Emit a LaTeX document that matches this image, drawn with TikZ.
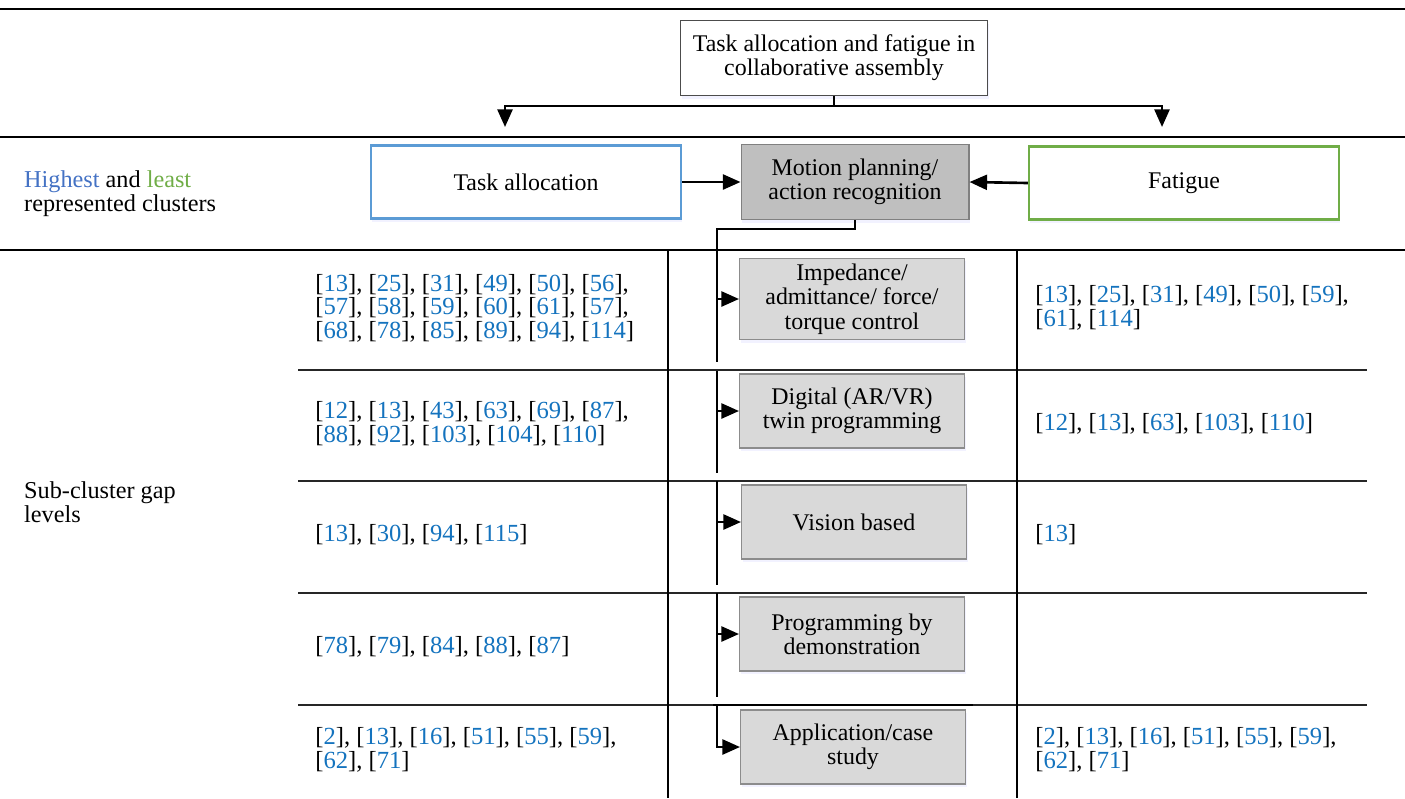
\documentclass[tikz,border=0pt]{standalone}
\usepackage{fontspec}
\setmainfont{Liberation Serif}
\usetikzlibrary{arrows.meta,shadows}
\definecolor{refblue}{RGB}{20,115,190}
\definecolor{hiblue}{RGB}{68,114,196}
\definecolor{logreen}{RGB}{112,173,71}
\definecolor{taskblue}{RGB}{91,155,213}
\newcommand{\rf}[1]{[\textcolor{refblue}{#1}]}
\tikzset{
         rule/.style = { line width=0.8pt },
    thickrule/.style = { line width=1.4pt },
      rowrule/.style = { line width=0.7pt, black!85 },
         conn/.style = { line width=1.5pt },
         flow/.style = { conn, -{Triangle[length=10pt,width=8.5pt]} },
       shaded/.style = { drop shadow={shadow xshift=0.8pt, shadow yshift=-1.8pt,
                         fill=blue!10, draw=none} },
       txt/.style    = { font=\fontsize{13.6}{13.8}\selectfont, align=center },
       topbox/.style = { txt, draw=black!70, fill=white, line width=0.6pt, shaded,
                         minimum width=6.14cm, minimum height=1.5cm },
      cluster/.style = { txt, fill=white, line width=1.4pt, shaded,
                         minimum width=6.2cm, minimum height=1.46cm },
       midbox/.style = { txt, draw=black!50, fill=black!25, line width=0.6pt, shaded,
                         minimum width=4.56cm, minimum height=1.5cm },
       subbox/.style = { txt, draw=black!45, fill=black!15, line width=0.6pt, shaded,
                         minimum width=4.5cm, minimum height=1.48cm },
         side/.style = { font=\fontsize{13.8}{13.8}\selectfont, anchor=west, align=left },
         refs/.style = { font=\fontsize{14}{13.3}\selectfont, anchor=west, align=left,
                         inner sep=0pt }
}

\begin{document}
\begin{tikzpicture}[x=0.02cm, y=-0.02cm]
  \useasboundingbox (0,0) rectangle (1405,798);

  % table rules
  \draw[thickrule] (0,9) -- (1405,9);
  \draw[rule] (0,137) -- (1405,137);
  \draw[rule] (0,250) -- (1405,250);
  \foreach \y in {370,481,593,705}
    \draw[rowrule] (298,\y) -- (1367,\y);
  \draw[rule] (668,250) -- (668,798);
  \draw[rule] (1017,250) -- (1017,798);

  % clusters
  \node (top) at (834,58) [topbox] {Task allocation and fatigue in\\collaborative assembly};
  \node (task) at (526,182) [cluster,draw=taskblue] {Task allocation};
  \node (motion) at (855,182) [midbox] {Motion planning/\\action recognition};
  \node (fatigue) at (1184,183) [cluster,draw=logreen] {Fatigue};

  \node (hilo) at (18,194) [side] {\textcolor{hiblue}{Highest} and \textcolor{logreen}{least}\\represented clusters};
  \node (gaps) at (18,502) [side] {Sub-cluster gap\\levels};

  % sub-clusters
  \node (imp) at (852,299) [subbox] {Impedance/\\admittance/ force/\\torque control};
  \node (twin) at (852,411) [subbox] {Digital (AR/VR)\\twin programming};
  \node (vis) at (854,522) [subbox] {Vision based};
  \node (demo) at (852,634) [subbox] {Programming by\\demonstration};
  \node (app) at (853,747) [subbox] {Application/case\\study};

  % references
  \node (ta1) at (315,308) [refs] {\rf{13}, \rf{25}, \rf{31}, \rf{49}, \rf{50}, \rf{56},\\\rf{57}, \rf{58}, \rf{59}, \rf{60}, \rf{61}, \rf{57},\\\rf{68}, \rf{78}, \rf{85}, \rf{89}, \rf{94}, \rf{114}};
  \node (ta2) at (315,424) [refs] {\rf{12}, \rf{13}, \rf{43}, \rf{63}, \rf{69}, \rf{87},\\\rf{88}, \rf{92}, \rf{103}, \rf{104}, \rf{110}};
  \node (ta3) at (315,535) [refs] {\rf{13}, \rf{30}, \rf{94}, \rf{115}};
  \node (ta4) at (315,647) [refs] {\rf{78}, \rf{79}, \rf{84}, \rf{88}, \rf{87}};
  \node (ta5) at (315,750) [refs] {\rf{2}, \rf{13}, \rf{16}, \rf{51}, \rf{55}, \rf{59},\\\rf{62}, \rf{71}};

  \node (fa1) at (1035,308) [refs] {\rf{13}, \rf{25}, \rf{31}, \rf{49}, \rf{50}, \rf{59},\\\rf{61}, \rf{114}};
  \node (fa2) at (1035,424) [refs] {\rf{12}, \rf{13}, \rf{63}, \rf{103}, \rf{110}};
  \node (fa3) at (1035,535) [refs] {\rf{13}};
  \node (fa5) at (1035,750) [refs] {\rf{2}, \rf{13}, \rf{16}, \rf{51}, \rf{55}, \rf{59},\\\rf{62}, \rf{71}};

  % connectors
  \coordinate (tl) at (505,127);
  \coordinate (tr) at (1162,127);
  \draw[flow] (top.south) -- ++(0,10) -| (tl);
  \draw[flow] (top.south) ++(0,10) -| (tr);
  \draw[flow] (task.east) -- (motion.west);
  \draw[flow] (fatigue.west) -- (motion.east);

  \coordinate (sp) at (717,229);
  \draw[conn] (motion.south) |- (sp) -- (717,362);
  \foreach \a/\b in {371/473,481/585,593/697}
    \draw[conn] (717,\a) -- (717,\b);
  \draw[line width=1pt] (713,705) -- (973,705);
  \foreach \n in {imp,twin,vis,demo}
    \draw[flow] (\n.west -| sp) -- (\n.west);
  \draw[flow] (717,705) |- (app.west);
\end{tikzpicture}
\end{document}
